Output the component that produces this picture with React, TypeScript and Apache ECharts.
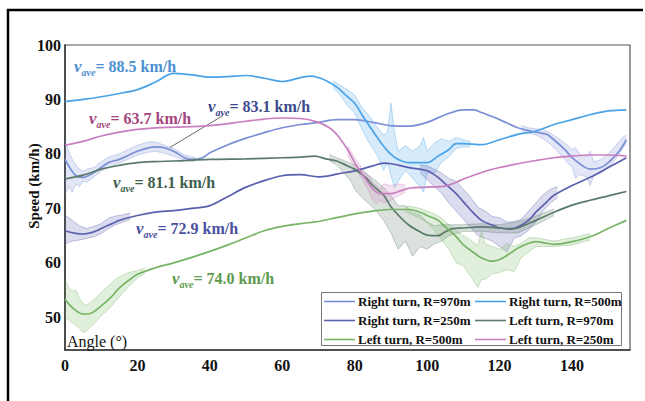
import React, { useEffect, useRef } from "react";
import * as echarts from "echarts";

const FONT = "'Liberation Serif', 'Times New Roman', serif";

// ---------- main curves (angle in degrees, speed in km/h) ----------
const angR500 = [0, 5, 10, 15, 20, 25, 30, 35, 40, 45, 50, 55, 60, 65, 68, 70, 72, 75, 78, 80, 82, 85, 88, 90, 92, 95, 98, 100, 103, 106, 108, 110, 115, 120, 125, 130, 135, 140, 145, 150, 155];
const spdR500 = [89.6, 90.0, 90.5, 91.1, 91.8, 93.2, 94.8, 94.5, 94.1, 94.2, 94.4, 93.9, 93.3, 94.0, 94.3, 94.0, 93.5, 92.3, 90.5, 89.3, 87.2, 84.2, 81.4, 79.9, 79.0, 78.4, 78.4, 78.4, 79.6, 80.8, 81.9, 81.9, 81.7, 82.6, 83.6, 84.2, 85.4, 86.3, 87.2, 87.9, 88.1];

const angR970 = [0, 3, 5, 8, 10, 12, 15, 18, 20, 23, 25, 27, 30, 33, 35, 38, 40, 45, 50, 55, 60, 65, 70, 75, 80, 85, 90, 95, 100, 105, 110, 113, 115, 120, 125, 130, 133, 135, 138, 140, 143, 145, 148, 150, 153, 155];
const spdR970 = [79.0, 76.0, 75.7, 76.6, 77.5, 78.4, 79.0, 79.9, 80.5, 81.1, 81.3, 81.2, 80.5, 79.3, 79.0, 79.3, 80.2, 81.7, 82.9, 83.9, 84.8, 85.4, 85.8, 86.3, 86.3, 85.8, 85.2, 85.1, 85.8, 87.2, 88.1, 88.1, 87.6, 86.3, 84.8, 84.0, 83.6, 82.6, 80.8, 79.3, 77.8, 77.2, 77.5, 78.4, 80.5, 82.6];

const angR250 = [0, 3, 5, 8, 10, 13, 15, 20, 25, 30, 35, 40, 45, 50, 55, 60, 65, 70, 73, 75, 80, 85, 88, 90, 95, 100, 103, 105, 108, 110, 113, 115, 118, 120, 123, 125, 128, 130, 133, 135, 140, 145, 150, 155];
const spdR250 = [65.9, 65.4, 65.3, 65.7, 66.3, 67.2, 67.8, 68.7, 69.3, 69.6, 70.0, 70.5, 72.2, 73.9, 75.1, 76.0, 76.2, 75.8, 76.0, 76.3, 76.9, 77.8, 78.3, 78.2, 77.5, 76.9, 75.7, 74.5, 72.7, 71.2, 69.0, 67.8, 66.9, 66.4, 66.3, 66.6, 67.8, 69.3, 71.2, 72.4, 74.2, 75.7, 77.5, 79.3];

const angL970 = [0, 5, 10, 15, 20, 25, 30, 40, 50, 60, 65, 69, 72, 75, 78, 80, 83, 85, 88, 90, 93, 95, 98, 100, 103, 105, 107, 110, 115, 120, 123, 125, 130, 135, 140, 145, 150, 155];
const spdL970 = [75.4, 76.1, 77.2, 77.9, 78.4, 78.6, 78.7, 79.0, 79.1, 79.3, 79.4, 79.6, 79.1, 78.7, 77.8, 77.2, 75.7, 74.2, 72.4, 70.3, 68.1, 66.9, 65.7, 65.1, 65.0, 65.7, 66.3, 66.4, 66.6, 66.4, 66.2, 66.4, 67.8, 69.3, 70.6, 71.5, 72.3, 73.1];

const angL500 = [0, 2, 5, 7, 10, 13, 15, 18, 20, 25, 30, 35, 40, 45, 50, 55, 60, 65, 70, 75, 80, 85, 90, 95, 98, 100, 103, 105, 108, 110, 113, 115, 118, 120, 123, 125, 128, 130, 133, 135, 140, 145, 150, 155];
const spdL500 = [53.3, 51.8, 50.6, 50.7, 52.1, 53.9, 55.4, 57.0, 57.9, 59.1, 60.0, 61.0, 62.1, 63.3, 64.6, 65.9, 66.7, 67.2, 67.6, 68.3, 69.0, 69.5, 69.8, 69.8, 69.3, 68.7, 67.8, 66.6, 64.8, 63.3, 61.8, 60.9, 60.3, 60.6, 61.8, 62.7, 63.6, 63.9, 63.6, 63.4, 63.9, 64.8, 66.3, 67.8];

const angL250 = [0, 5, 10, 15, 20, 25, 30, 40, 50, 55, 60, 65, 70, 73, 75, 78, 80, 83, 85, 87, 90, 93, 95, 100, 105, 108, 110, 115, 120, 125, 130, 135, 140, 145, 150, 155];
const spdL250 = [81.6, 82.3, 83.3, 84.0, 84.5, 84.8, 84.9, 85.2, 86.0, 86.4, 86.6, 86.5, 85.8, 84.8, 83.6, 80.8, 78.4, 75.4, 73.6, 72.7, 72.7, 73.3, 73.7, 73.9, 74.1, 74.8, 75.4, 76.6, 77.5, 78.2, 78.8, 79.3, 79.6, 79.8, 79.8, 79.6];

// ---------- scatter bands [angle, low, high] ----------
const bandR500: number[][] = [[74, 92.2, 93.4], [76, 90.8, 92.6], [78, 88.8, 91.8], [80, 87.5, 90.8], [82, 84.5, 88.5], [84, 82, 87], [86, 80, 85], [88, 77, 83.5], [89, 78.5, 84], [90, 76, 89.3], [91, 73.8, 84], [92, 75, 80.5], [94, 77, 81.5], [96, 75.5, 80.5], [98, 74, 81.5], [99, 73, 83], [100, 76.5, 80.5], [102, 76.5, 82], [104, 78.5, 82.8], [106, 79.5, 82.3], [108, 81, 83], [110, 81.3, 82.6], [112, 81.3, 82.3]];
const bandR970a: number[][] = [[0, 72.5, 82.5], [1, 74, 80.5], [2, 73, 79], [3, 74.5, 78], [4, 74, 77.2], [5, 75, 76.8], [6, 74.8, 77.2], [8, 75.8, 77.5], [10, 76.8, 78.6], [12, 77.5, 79.4], [15, 78.3, 80], [18, 79.2, 81], [20, 79.8, 81.6], [23, 80.3, 82.2], [25, 80.5, 82.2], [27, 80.2, 81.7], [30, 79.6, 81], [33, 78.8, 79.8], [36, 78.6, 79.3]];
const bandR970b: number[][] = [[126, 84.2, 85.2], [128, 83.8, 84.8], [130, 83.5, 84.6], [132, 82.8, 84.5], [134, 81.8, 83.8], [136, 80.5, 83], [138, 79, 82], [140, 77.5, 80.8], [141, 75.5, 81.2], [142, 76.2, 80], [144, 75.8, 79.5], [145, 74.2, 80.5], [146, 76, 78.5], [148, 76.5, 79], [150, 77.5, 80], [152, 79, 81.5], [154, 81, 83], [155, 82, 83.5]];
const bandR250a: number[][] = [[0, 63.5, 68.8], [2, 64, 67.8], [4, 64.2, 66.8], [6, 64.5, 66.3], [8, 64.8, 66.7], [10, 65.4, 67.2], [12, 66.3, 68.2], [14, 67, 68.6], [16, 67.5, 68.8], [18, 68, 69.2]];
const bandR250b: number[][] = [[98, 76.5, 78], [100, 75.3, 77.8], [102, 74, 77.2], [104, 72.8, 76.5], [106, 71, 75.5], [108, 69.5, 75], [110, 68, 73.5], [112, 66.5, 72], [114, 65, 70.2], [116, 64.5, 69.5], [118, 64, 68.5], [120, 63, 68.3], [122, 62, 67.5], [124, 64.5, 67.6], [126, 65, 68], [128, 66, 69.5], [130, 67.5, 71], [132, 69.5, 72.5], [134, 71, 73.5], [136, 72, 74]];
const bandL970: number[][] = [[73, 78.7, 79.9], [75, 78, 79.3], [77, 76.5, 78.8], [79, 75, 78.2], [80, 73.5, 78], [82, 72, 77], [84, 70.8, 76], [86, 69.5, 75], [88, 67.8, 73.8], [90, 65.5, 72.3], [92, 62.5, 70.5], [94, 64, 70.5], [96, 61.2, 69.2], [98, 63, 68.8], [100, 62.5, 67.5], [102, 63.5, 66.8], [104, 64, 67], [106, 65, 67], [110, 65.8, 67], [115, 65.8, 67.2], [120, 65.5, 67], [125, 65.5, 67.5], [130, 67, 68.6], [135, 68.7, 69.9]];
const bandL500a: number[][] = [[0, 50, 57], [1, 49.5, 55.5], [2, 49, 54.8], [3, 48.5, 55], [4, 48, 53.5], [5, 47.2, 52.5], [6, 47.5, 52.2], [8, 48.8, 53.2], [10, 50.3, 54.6], [12, 51.5, 55.8], [14, 53, 57], [16, 54.5, 57.8], [18, 56, 58.3], [20, 57.2, 58.6], [22, 58, 59]];
const bandL500b: number[][] = [[94, 69.3, 70.4], [96, 68.8, 70.3], [98, 68.2, 70], [100, 67.3, 69.5], [102, 66, 69], [104, 64.2, 68.2], [106, 62.5, 67], [108, 60, 66], [110, 59.5, 65], [112, 57.5, 64.2], [114, 55.5, 63.2], [115, 57, 65.8], [116, 57, 63.5], [118, 58, 63], [120, 58.2, 62.5], [122, 58.8, 63.6], [124, 58.4, 63], [126, 61, 63.6], [128, 62, 64.6], [130, 63, 64.6], [135, 63, 64], [140, 63.3, 64.6], [145, 64.2, 65.4]];
const bandL250: number[][] = [[78, 79.8, 81.5], [80, 77.5, 79.3], [82, 75.5, 77.3], [84, 73, 75.8], [85, 71.5, 74.8], [86, 70.8, 74.2], [87, 71.5, 73.5], [88, 71, 74.5], [90, 71.5, 74.2], [92, 72.3, 74.5], [94, 73, 74.3]];

const seriesNames = ["Right turn, R=970m", "Right turn, R=500m", "Right turn, R=250m", "Left turn, R=970m", "Left turn, R=500m", "Left turn, R=250m"];
const seriesColors = ["#7b8fd6", "#4aa3e6", "#5a60ad", "#5a7a6a", "#78b466", "#c97fbf"];

const annotations = [
  { text: "88.5", color: "#4b8fd2", x: 74, y: 66 },
  { text: "63.7", color: "#a2457c", x: 89, y: 118 },
  { text: "83.1", color: "#3c4a8c", x: 208, y: 106 },
  { text: "81.1", color: "#3e5e4e", x: 113, y: 182 },
  { text: "72.9", color: "#4b50a0", x: 136, y: 228 },
  { text: "74.0", color: "#5e9a4e", x: 172, y: 278 },
];

function mainLine(name: string, xs: number[], ys: number[], color: string, extra: any = {}) {
  return {
    name,
    type: "line",
    data: xs.map((x, i) => [x, ys[i]]),
    smooth: 0.35,
    symbol: "none",
    showSymbol: false,
    lineStyle: { color, width: 1.7 },
    itemStyle: { color },
    z: 5,
    ...extra,
  };
}

function band(b: number[][], color: string) {
  return {
    type: "custom",
    data: b,
    encode: { x: 0, y: [1, 2] },
    silent: true,
    clip: true,
    z: 2,
    renderItem: (params: any, api: any) => {
      if (params.dataIndex !== 0) return null;
      const upper = b.map((p) => api.coord([p[0], p[2]]));
      const lower = b.map((p) => api.coord([p[0], p[1]]));
      const poly = upper.concat(lower.slice().reverse());
      return {
        type: "group",
        children: [
          { type: "polygon", shape: { points: poly }, style: { fill: color, opacity: 0.22, stroke: "none" } },
          { type: "polyline", shape: { points: upper }, style: { stroke: color, fill: "none", lineWidth: 0.8, opacity: 0.45 } },
          { type: "polyline", shape: { points: lower }, style: { stroke: color, fill: "none", lineWidth: 0.8, opacity: 0.45 } },
        ],
      };
    },
  };
}

const legendCommon = {
  orient: "vertical",
  icon: "rect",
  itemWidth: 31,
  itemHeight: 1.6,
  itemGap: 6,
  padding: 0,
  z: 20,
  textStyle: { fontFamily: "Liberation Serif", fontWeight: "bold", fontSize: 13, color: "#111", lineHeight: 11, padding: [0, 0, 0, -2] },
};

export default function App() {
  const ref = useRef<HTMLDivElement>(null);
  useEffect(() => {
    if (!ref.current) return;
    const chart = echarts.init(ref.current, null, { renderer: "svg" });
    const [cR970, cR500, cR250, cL970, cL500, cL250] = seriesColors;
    const series: any[] = [
      band(bandR500, cR500),
      band(bandR970a, cR970),
      band(bandR970b, cR970),
      band(bandR250a, cR250),
      band(bandR250b, cR250),
      band(bandL970, cL970),
      band(bandL500a, cL500),
      band(bandL500b, cL500),
      band(bandL250, cL250),
      mainLine(seriesNames[0], angR970, spdR970, cR970, {
        markLine: {
          silent: true,
          symbol: "none",
          label: { show: false },
          lineStyle: { color: "#444", width: 0.8, type: "solid" },
          data: [[{ coord: [29, 81.2] }, { coord: [43.5, 87.0] }]],
        },
      }),
      mainLine(seriesNames[1], angR500, spdR500, cR500),
      mainLine(seriesNames[2], angR250, spdR250, cR250),
      mainLine(seriesNames[3], angL970, spdL970, cL970),
      mainLine(seriesNames[4], angL500, spdL500, cL500),
      mainLine(seriesNames[5], angL250, spdL250, cL250),
    ];

    const graphics: any[] = [
      { type: "line", shape: { x1: 7, y1: 10, x2: 643, y2: 10 }, style: { stroke: "#000", lineWidth: 2.5 } },
      { type: "line", shape: { x1: 8, y1: 9, x2: 8, y2: 401 }, style: { stroke: "#000", lineWidth: 2.5 } },
      {
        type: "rect",
        shape: { x: 321.5, y: 292.5, width: 300, height: 53 },
        style: { fill: "#fff", stroke: "#777", lineWidth: 1 },
        z: 15,
      },
      {
        type: "text",
        x: 34,
        y: 186,
        rotation: Math.PI / 2,
        style: {
          text: "Speed (km/h)",
          font: "bold 15px 'Liberation Serif'",
          fill: "#111",
          align: "center",
          verticalAlign: "middle",
          textAlign: "center",
          textVerticalAlign: "middle",
        },
      },
      {
        type: "text",
        x: 67,
        y: 341,
        style: {
          text: "Angle (°)",
          font: "16px 'Liberation Serif'",
          fill: "#111",
          align: "left",
          verticalAlign: "middle",
          textAlign: "left",
          textVerticalAlign: "middle",
        },
        z: 10,
      },
      ...annotations.map((a) => ({
        type: "text",
        x: a.x,
        y: a.y,
        z: 10,
        style: {
          text: `{v|v}{s|ave}{t|= ${a.text} km/h}`,
          fill: a.color,
          font: "bold 16px 'Liberation Serif'",
          align: "left",
          verticalAlign: "middle",
          textAlign: "left",
          textVerticalAlign: "middle",
          rich: {
            v: { font: "italic bold 17px 'Liberation Serif'", fontFamily: "Liberation Serif", fontSize: 17, fontStyle: "italic", fontWeight: "bold", fill: a.color, lineHeight: 22, verticalAlign: "middle" },
            s: { font: "italic bold 10px 'Liberation Serif'", fontFamily: "Liberation Serif", fontSize: 10, fontStyle: "italic", fontWeight: "bold", fill: a.color, lineHeight: 10, verticalAlign: "bottom" },
            t: { font: "bold 16px 'Liberation Serif'", fontFamily: "Liberation Serif", fontSize: 16, fontWeight: "bold", fill: a.color, lineHeight: 22, verticalAlign: "middle" },
          },
        },
      })),
    ];

    chart.setOption({
      animation: false,
      backgroundColor: "#fff",
      grid: { left: 65, right: 15, top: 45, bottom: 51, show: true, borderColor: "#555", borderWidth: 1.2 },
      xAxis: {
        type: "value",
        min: 0,
        max: 156,
        interval: 20,
        axisLine: { show: true, lineStyle: { color: "#333", width: 1.5 } },
        axisTick: { show: false },
        splitLine: { show: false },
        axisLabel: {
          formatter: (v: number) => (v % 20 === 0 ? String(v) : ""),
          fontFamily: "Liberation Serif",
          fontWeight: "bold",
          fontSize: 16,
          color: "#111",
          margin: 7,
        },
      },
      yAxis: {
        type: "value",
        min: 44,
        max: 100,
        interval: 2,
        axisLine: { show: true, lineStyle: { color: "#333", width: 1.5 } },
        axisTick: { show: false },
        splitLine: { show: false },
        axisLabel: {
          formatter: (v: number) => (v % 10 === 0 ? String(v) : ""),
          fontFamily: "Liberation Serif",
          fontWeight: "bold",
          fontSize: 16,
          color: "#111",
          margin: 4,
        },
      },
      legend: [
        { ...legendCommon, data: [seriesNames[0], seriesNames[2], seriesNames[4]], left: 324, top: 295 },
        { ...legendCommon, data: [seriesNames[1], seriesNames[3], seriesNames[5]], left: 475, top: 295 },
      ],
      graphic: graphics,
      series,
    });
    return () => chart.dispose();
  }, []);
  return <div ref={ref} style={{ position: "absolute", left: 0, top: 0, width: 645, height: 401 }} />;
}
